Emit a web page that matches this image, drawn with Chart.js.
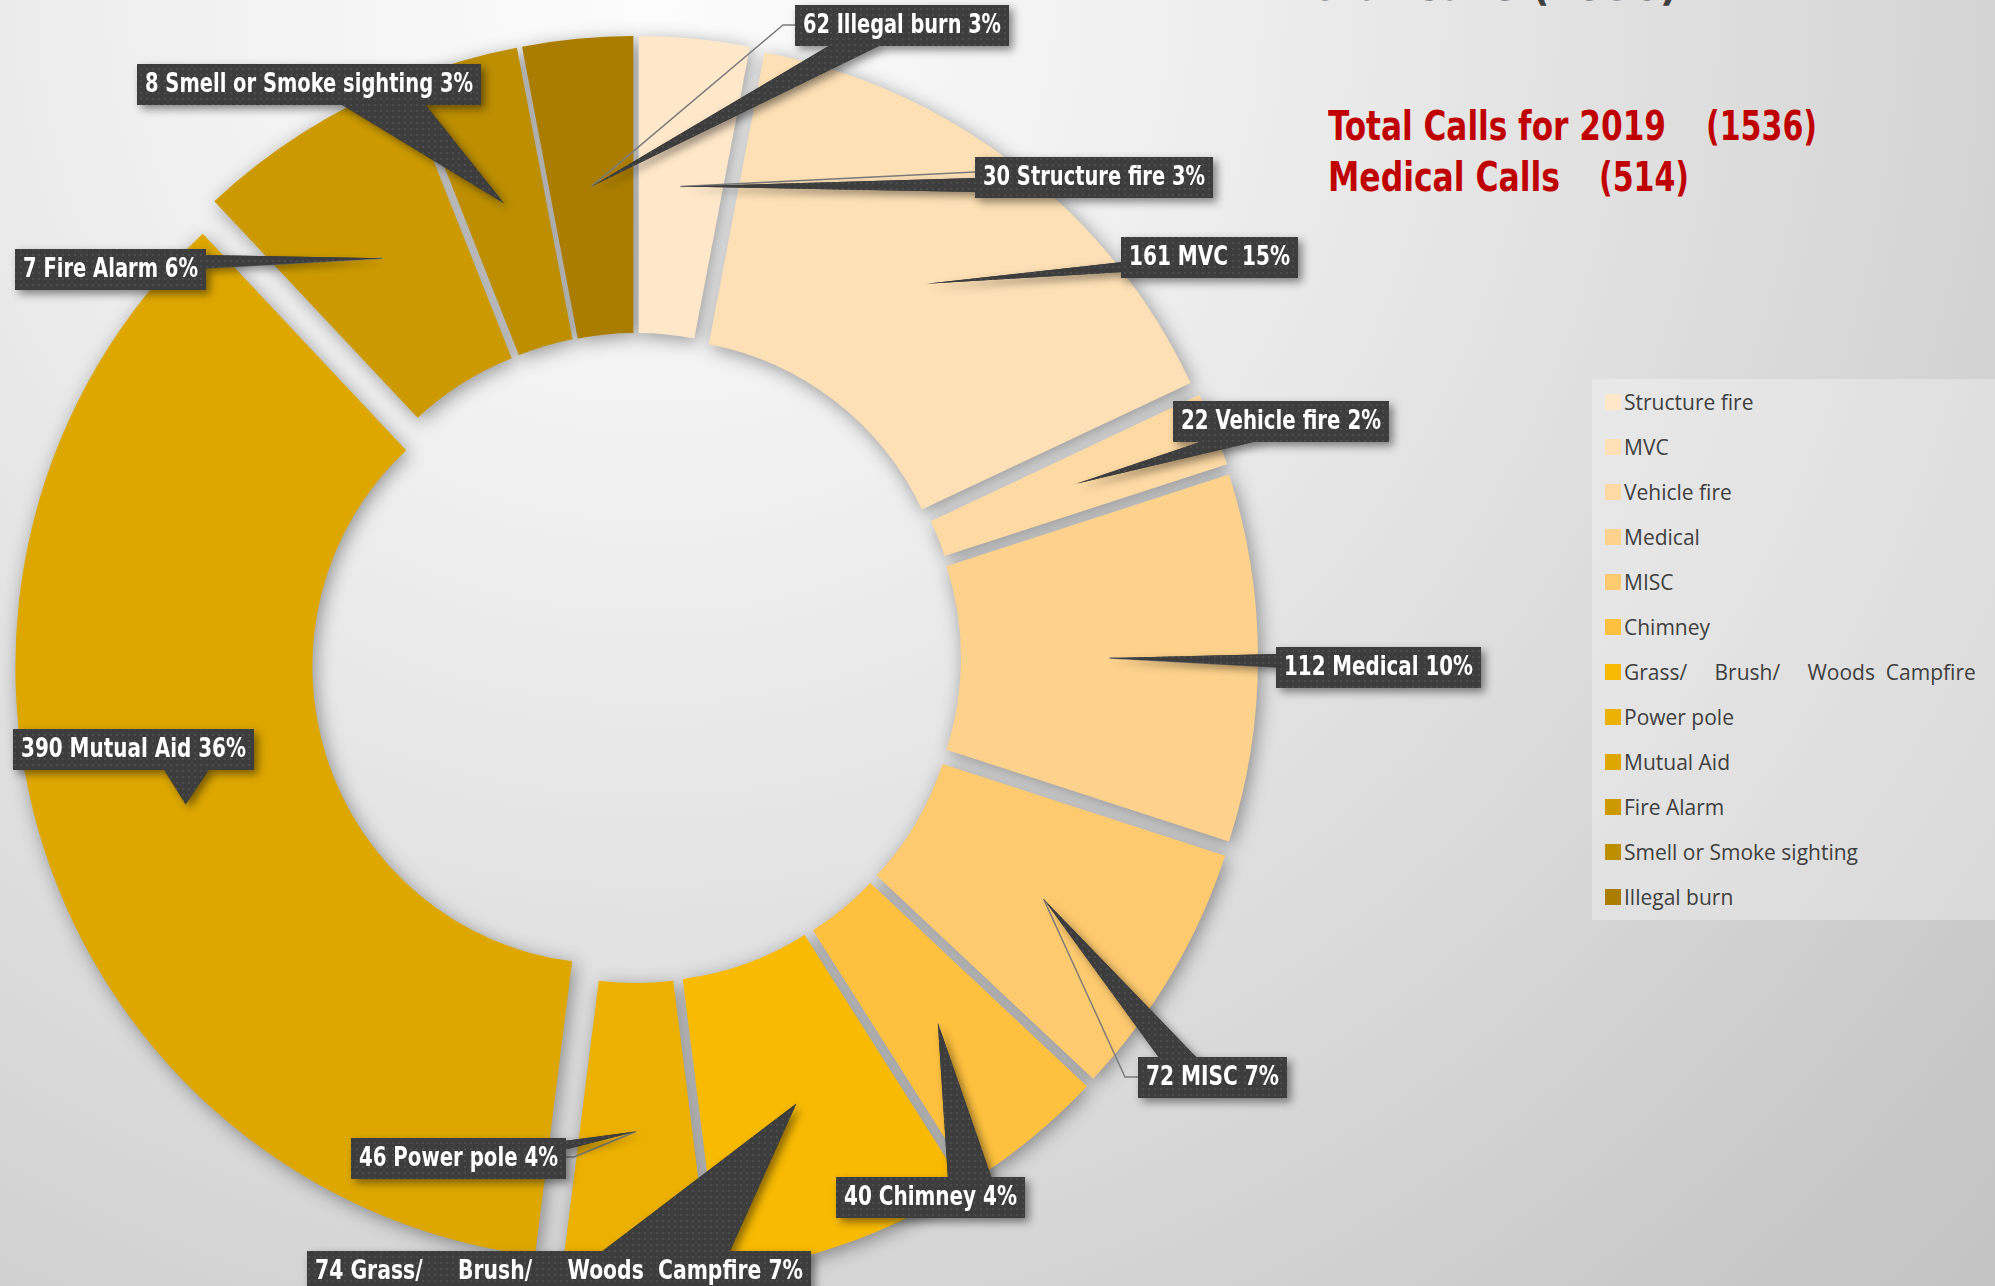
<!DOCTYPE html>
<html>
<head>
<meta charset="utf-8">
<script src="https://cdn.jsdelivr.net/npm/chart.js@4.4.1/dist/chart.umd.min.js"></script>
<style>
    html, body { margin: 0; padding: 0; width: 1995px; height: 1286px; overflow: hidden; }
    body {
        position: relative;
        background: radial-gradient(circle at 650px 0px, #fcfcfc 0px, #f0f0f0 500px, #d9d9d9 1200px, #c7c7c7 1700px, #bdbdbd 2200px);
        font-family: 'Open Sans', sans-serif;
    }
    #chart { position: absolute; left: 0; top: 0; }
    .head { position: absolute; color: #404040; font: bold 44px 'Liberation Sans Narrow', 'DejaVu Sans Condensed', sans-serif; white-space: pre; line-height: 44px; }
    .note { position: absolute; color: #c00000; font: bold 40px 'Liberation Sans Narrow', 'DejaVu Sans Condensed', sans-serif; white-space: pre; line-height: 40px; transform-origin: 0 0; }
    #legend { position: absolute; left: 1592px; top: 379px; width: 403px; height: 541px; background: rgba(255, 255, 255, 0.3); }
    .item { position: absolute; left: 32px; height: 28px; line-height: 28px; font-size: 21px; color: #404040; white-space: pre; }
    .sw { position: absolute; left: -19px; top: 6px; width: 16px; height: 16px; }
</style>
</head>
<body>
<div class="head" style="left:1290px; top:-37px;">Total Calls (1536)</div>
<div class="note" id="totalLabel" data-w="338" style="left:1328px; top:106px;"></div>
<div class="note" id="totalValue" data-w="111" style="left:1706px; top:106px;"></div>
<div class="note" id="medLabel" data-w="232" style="left:1328px; top:157px;"></div>
<div class="note" id="medValue" data-w="90" style="left:1599px; top:157px;"></div>
<div id="legend"></div>
<canvas id="chart" width="1995" height="1286"></canvas>
<script>
// call types, clockwise from 12 o'clock
const categories = ['Structure fire', 'MVC ', 'Vehicle fire', 'Medical', 'MISC', 'Chimney',
    'Grass/     Brush/     Woods  Campfire', 'Power pole', 'Mutual Aid', 'Fire Alarm',
    'Smell or Smoke sighting', 'Illegal burn'];
const callCounts = [30, 161, 22, 112, 72, 40, 74, 46, 390, 7, 8, 62];
const sharePercents = [3, 15, 2, 10, 7, 4, 7, 4, 36, 6, 3, 3];
const sliceColors = ['#FFE8CA', '#FDE0B5', '#FDD9A4', '#FDD28C', '#FECA6F', '#FEC13F',
    '#F8BA02', '#EBB000', '#DDA700', '#CC9A00', '#BC8E00', '#AA7D00'];
const reportYear = 2019;
const totalCalls = 1536;
const medicalCalls = 514;

// callout boxes: position/width plus the two base points of the pointer
const callouts = [
    { x: 975, y: 157, w: 238, base: [[977, 178], [977, 192]], leader: [[975, 172]] },
    { x: 1121, y: 237, w: 177, base: [[1123, 262], [1123, 272]] },
    { x: 1173, y: 401, w: 216, base: [[1206, 440], [1262, 440]] },
    { x: 1276, y: 647, w: 205, base: [[1278, 654], [1278, 667]], leader: [[1276, 667]] },
    { x: 1138, y: 1057, w: 149, base: [[1160, 1059], [1198, 1059]], leader: [[1138, 1077], [1125, 1077]] },
    { x: 836, y: 1177, w: 189, base: [[948, 1179], [992, 1179]] },
    { x: 307, y: 1251, w: 504, base: [[600, 1253], [729, 1253]] },
    { x: 351, y: 1138, w: 215, base: [[564, 1141], [564, 1150]], leader: [[566, 1157], [574, 1157]] },
    { x: 13, y: 729, w: 241, base: [[163, 768], [210, 768]] },
    { x: 15, y: 249, w: 191, base: [[204, 255], [204, 268]], leader: [[206, 268]] },
    { x: 137, y: 64, w: 344, base: [[339, 103], [424, 103]] },
    { x: 795, y: 5, w: 214, base: [[832, 44], [883, 44]], leader: [[795, 25], [783, 25]] }
];
const BOX_H = 41;
const EXPLODE = 28;

document.getElementById('totalLabel').textContent = 'Total Calls for ' + reportYear;
document.getElementById('totalValue').textContent = '(' + totalCalls + ')';
document.getElementById('medLabel').textContent = 'Medical Calls';
document.getElementById('medValue').textContent = '(' + medicalCalls + ')';
// squeeze the red notes to the reference widths (no narrow Calibri here)
document.querySelectorAll('.note').forEach(el => {
    const w = el.getBoundingClientRect().width;
    el.style.transform = 'scaleX(' + (Number(el.dataset.w) / w) + ')';
});

const legendEl = document.getElementById('legend');
categories.forEach((name, i) => {
    const row = document.createElement('div');
    row.className = 'item';
    row.style.top = (9 + i * 45) + 'px';
    row.textContent = name.trim();
    const sw = document.createElement('span');
    sw.className = 'sw';
    sw.style.background = sliceColors[i];
    row.appendChild(sw);
    legendEl.appendChild(row);
});

// exploded slices with one soft shadow under the whole ring
const explodePlugin = {
    id: 'explode',
    beforeDatasetDraw(chart, args) {
        const meta = chart.getDatasetMeta(args.index);
        const off = document.createElement('canvas');
        off.width = chart.canvas.width;
        off.height = chart.canvas.height;
        const octx = off.getContext('2d');
        meta.data.forEach(arc => {
            const p = arc.getProps(['startAngle', 'endAngle']);
            const mid = (p.startAngle + p.endAngle) / 2;
            octx.save();
            octx.translate(Math.cos(mid) * EXPLODE, Math.sin(mid) * EXPLODE);
            arc.draw(octx);
            octx.restore();
        });
        const ctx = chart.ctx;
        ctx.save();
        ctx.shadowColor = 'rgba(0, 0, 0, 0.38)';
        ctx.shadowBlur = 18;
        ctx.shadowOffsetX = 3;
        ctx.shadowOffsetY = 4;
        ctx.drawImage(off, 0, 0);
        ctx.restore();
        return false;
    }
};

function dotPattern(ctx) {
    const c = document.createElement('canvas');
    c.width = 6; c.height = 6;
    const g = c.getContext('2d');
    g.fillStyle = '#3d3d3d';
    g.fillRect(0, 0, 6, 6);
    g.fillStyle = '#4c4c4c';
    g.fillRect(2, 2, 2, 2);
    return ctx.createPattern(c, 'repeat');
}

const calloutPlugin = {
    id: 'callouts',
    afterDatasetsDraw(chart) {
        const ctx = chart.ctx;
        const meta = chart.getDatasetMeta(0);
        const fill = dotPattern(ctx);
        const anchors = meta.data.map(arc => {
            const p = arc.getProps(['x', 'y', 'startAngle', 'endAngle', 'innerRadius', 'outerRadius']);
            const mid = (p.startAngle + p.endAngle) / 2;
            const r = (p.innerRadius + p.outerRadius) / 2 + EXPLODE;
            return [p.x + Math.cos(mid) * r, p.y + Math.sin(mid) * r];
        });

        // thin leader lines
        ctx.save();
        ctx.strokeStyle = '#7b7b7b';
        ctx.lineWidth = 1.5;
        callouts.forEach((c, i) => {
            if (!c.leader) return;
            ctx.beginPath();
            ctx.moveTo(c.leader[0][0], c.leader[0][1]);
            c.leader.slice(1).forEach(pt => ctx.lineTo(pt[0], pt[1]));
            ctx.lineTo(anchors[i][0], anchors[i][1]);
            ctx.stroke();
        });
        ctx.restore();

        callouts.forEach((c, i) => {
            const a = anchors[i];
            const shapes = () => {
                ctx.fillRect(c.x, c.y, c.w, BOX_H);
                ctx.beginPath();
                ctx.moveTo(c.base[0][0], c.base[0][1]);
                ctx.lineTo(a[0], a[1]);
                ctx.lineTo(c.base[1][0], c.base[1][1]);
                ctx.closePath();
                ctx.fill();
            };
            ctx.save();
            ctx.fillStyle = fill;
            ctx.shadowColor = 'rgba(0, 0, 0, 0.45)';
            ctx.shadowBlur = 8;
            ctx.shadowOffsetX = 4;
            ctx.shadowOffsetY = 4;
            shapes();
            ctx.shadowColor = 'transparent';
            shapes();
            ctx.fillStyle = '#ffffff';
            ctx.font = 'bold 26px "Liberation Sans Narrow", "DejaVu Sans Condensed", "Open Sans", sans-serif';
            ctx.textAlign = 'center';
            ctx.textBaseline = 'middle';
            const text = callCounts[i] + ' ' + categories[i] + ' ' + sharePercents[i] + '%';
            ctx.fillText(text, c.x + c.w / 2, c.y + BOX_H / 2 + 1, c.w - 16);
            ctx.restore();
        });
    }
};

new Chart(document.getElementById('chart').getContext('2d'), {
    type: 'doughnut',
    data: {
        labels: categories,
        datasets: [{
            data: sharePercents,
            backgroundColor: sliceColors,
            borderWidth: 0
        }]
    },
    options: {
        responsive: false,
        animation: false,
        events: [],
        radius: 594,
        cutout: '50%',
        layout: { padding: { top: 30, bottom: 0, left: 0, right: 723 } },
        plugins: {
            legend: { display: false },
            tooltip: { enabled: false }
        }
    },
    plugins: [explodePlugin, calloutPlugin]
});
</script>
</body>
</html>
